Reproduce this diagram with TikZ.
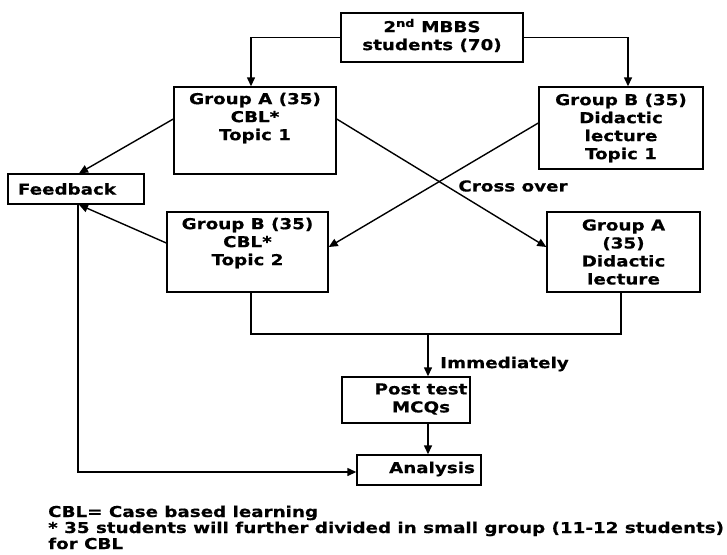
\documentclass[tikz,border=0pt]{standalone}
\usepackage{fontspec}
\setmainfont{DejaVu Sans}[FakeStretch=1.22, BoldFeatures={FakeStretch=1.22, FakeBold=0.5}]
\usetikzlibrary{arrows.meta,calc}
\begin{document}
\begin{tikzpicture}[x=1pt,y=-1pt,
  box/.style={draw, line width=1.4pt, inner sep=0pt},
  txt/.style={align=center, inner sep=0pt, font=\fontsize{15}{18}\selectfont\bfseries},
  conn/.style={line width=1.4pt},
  arr/.style={conn, -{Triangle[length=9pt,width=8pt]}}]
\useasboundingbox (0,0) rectangle (727,554);
% boxes
\node[box, minimum width=182pt, minimum height=49pt] (top) at (432,37.5) {};
\node[txt] (topt) at (432,35.5) {2\textsuperscript{nd} MBBS\\students (70)};
\node[box, minimum width=162pt, minimum height=87pt] (gA) at (255,130.5) {};
\node[txt] (gAt) at (255,118) {Group A (35)\\CBL*\\Topic 1};
\node[box, minimum width=164pt, minimum height=82pt] (gB) at (621,128) {};
\node[txt] (gBt) at (621,128) {Group B (35)\\Didactic\\lecture\\Topic 1};
\node[box, minimum width=136pt, minimum height=30pt] (fb) at (76,189) {};
\node[txt] (fbt) at (67,189) {Feedback};
\node[box, minimum width=161pt, minimum height=80pt] (gB2) at (247.5,252) {};
\node[txt] (gB2t) at (247.5,243) {Group B (35)\\CBL*\\Topic 2};
\node[box, minimum width=153pt, minimum height=80pt] (gA2) at (623.5,252) {};
\node[txt] (gA2t) at (623.5,252) {Group A\\(35)\\Didactic\\lecture};
\node[box, minimum width=128pt, minimum height=46pt] (post) at (406,400) {};
\node[txt] (postt) at (421,399) {Post test\\MCQs};
\node[box, minimum width=124pt, minimum height=30pt] (ana) at (419,470) {};
\node[txt] (anat) at (432,469) {Analysis};
% labels
\node[txt] (cross) at (513,186) {Cross over};
\node[txt] (imm) at (504.5,364) {Immediately};
% notes
\node[txt, anchor=base west] (n1) at (48,517) {CBL= Case based learning};
\node[txt, anchor=base west] (n2) at (48,533) {* 35 students will further divided in small group (11-12 students)};
\node[txt, anchor=base west] (n3) at (48,549) {for CBL};
% connectors
\draw[arr] (top.west) -| ($(gA.north)+(-4,0)$);
\draw[arr] (top.east) -| ($(gB.north)+(7,0)$);
\draw[arr] ($(gA.west)+(0,-11.5)$) -- ($(fb.north)+(3,0)$);
\draw[arr] ($(gA.east)+(0,-11.5)$) -- ($(gA2.west)+(0,-5)$);
\draw[arr] ($(gB.west)+(0,-5)$) -- ($(gB2.east)+(0,-5)$);
\draw[arr] ($(gB2.west)+(0,-9)$) -- ($(fb.south)+(3,0)$);
\coordinate (j) at (428,334);
\draw[conn] ($(gB2.south)+(3.5,0)$) |- (j) -| ($(gA2.south)+(-2.5,0)$);
\draw[arr] (j) -- (j |- post.north);
\draw[arr] (post.south -| j) -- (ana.north -| j);
\draw[arr] ($(fb.south)+(2,0)$) |- ($(ana.west)+(0,2)$);
\end{tikzpicture}
\end{document}
